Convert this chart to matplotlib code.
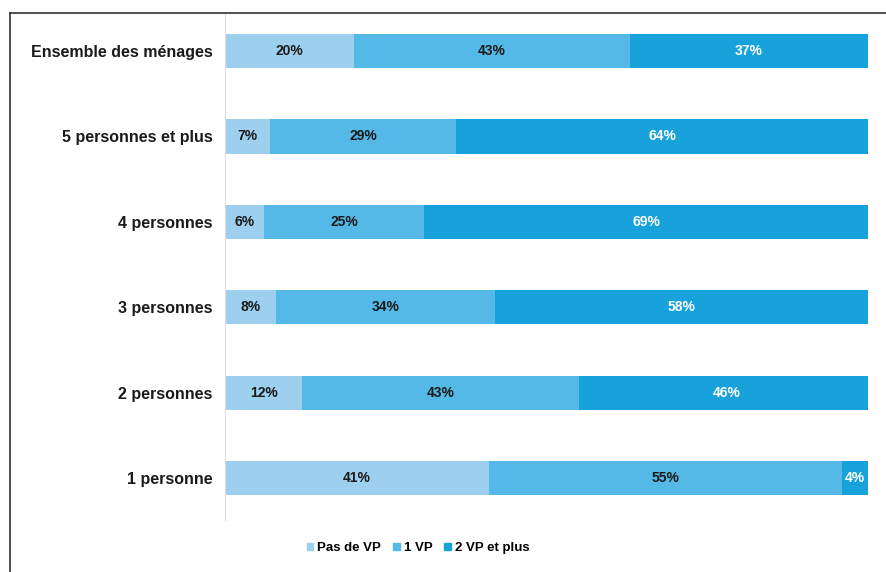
import matplotlib.pyplot as plt
import numpy as np
from matplotlib.lines import Line2D
from matplotlib.patches import Patch

plt.rcParams["font.family"] = ["Liberation Sans", "DejaVu Sans"]

# Data (bottom to top)
categories = ["1 personne", "2 personnes", "3 personnes", "4 personnes",
              "5 personnes et plus", "Ensemble des ménages"]
pas_de_vp = [41, 12, 8, 6, 7, 20]
un_vp = [55, 43, 34, 25, 29, 43]
deux_vp = [4, 46, 58, 69, 64, 37]
series_names = ["Pas de VP", "1 VP", "2 VP et plus"]

colors = ["#9dd0ef", "#55b9e7", "#18a2dc"]
text_colors = ["#1a1a1a", "#1a1a1a", "white"]

fig = plt.figure(figsize=(8.87, 5.72), dpi=100)
ax = fig.add_axes([225 / 887, 52 / 572, (868 - 225) / 887, (520 - 13) / 572])

y = np.arange(len(categories))
left = np.zeros(len(categories))
for vals, col, tcol, name in zip([pas_de_vp, un_vp, deux_vp], colors, text_colors, series_names):
    vals = np.array(vals, dtype=float)
    ax.barh(y, vals, left=left, height=0.4, color=col, label=name)
    for yi, l, v in zip(y, left, vals):
        ax.text(l + v / 2, yi, f"{int(v)}%", ha="center", va="center",
                fontsize=10, fontweight="bold", color=tcol)
    left += vals

ax.set_xlim(0, 100)
ax.set_ylim(-0.49, 5.445)
ax.set_yticks(y)
ax.set_yticklabels(categories, fontsize=11.5, fontweight="bold", color="#1a1a1a")
ax.tick_params(axis="y", length=0, pad=9)
ax.set_xticks([])
for s in ["top", "right", "bottom"]:
    ax.spines[s].set_visible(False)
ax.spines["left"].set_color("#dddddd")

# outer frame (top and left edges visible)
fig.add_artist(Line2D([10 / 887, 1], [1 - 13 / 572, 1 - 13 / 572], color="#333333", lw=1.2))
fig.add_artist(Line2D([10 / 887, 10 / 887], [0, 1 - 13 / 572], color="#333333", lw=1.2))

handles = [Patch(color=c) for c in colors]
fig.legend(handles, series_names, loc="center", bbox_to_anchor=(418 / 887, 1 - 548 / 572),
           ncol=3, frameon=False, handlelength=0.5, handleheight=0.5, handletextpad=0.3,
           columnspacing=0.9, prop={"weight": "bold", "size": 9.5})

fig.savefig("out.png", dpi=100, facecolor="white")
